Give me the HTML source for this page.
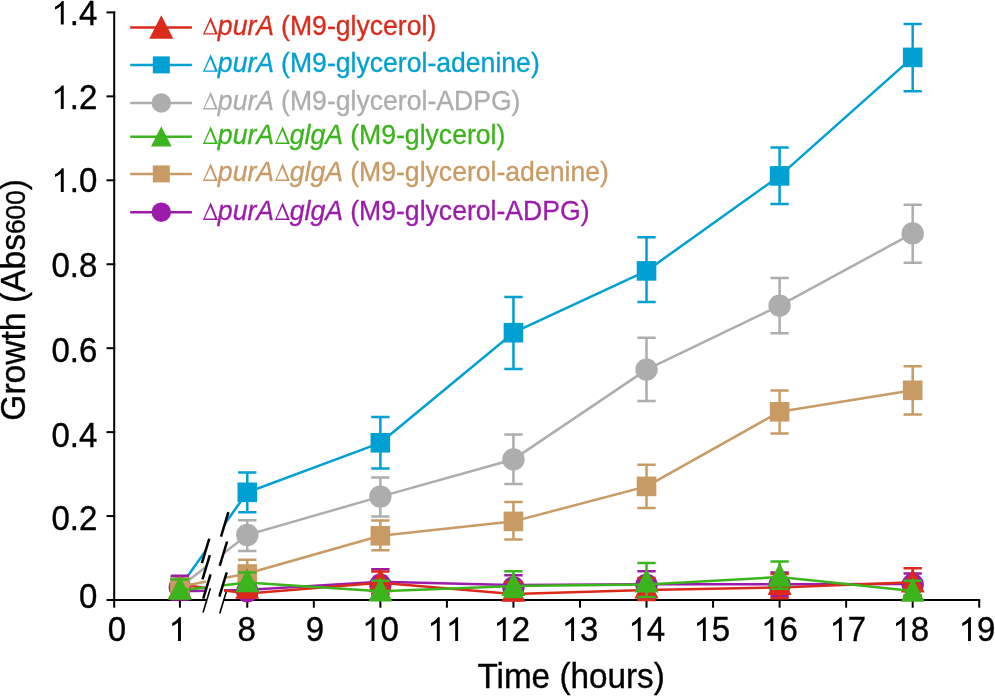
<!DOCTYPE html><html><head><meta charset="utf-8"><style>
html,body{margin:0;padding:0;background:#fff;overflow:hidden}
svg{display:block;will-change:transform}
text{font-family:"Liberation Sans",sans-serif}
</style></head><body>
<svg width="995" height="696" viewBox="0 0 995 696">
<defs><clipPath id="gap"><rect x="0" y="0" width="206.0" height="696"/><rect x="224.0" y="0" width="771.0" height="696"/></clipPath></defs>

<g stroke="#000" stroke-width="2.0" fill="none">
<line x1="114.2" y1="11.42" x2="114.2" y2="601.0"/>
<line x1="106.5" y1="600.00" x2="115.2" y2="600.00"/>
<line x1="106.5" y1="516.06" x2="115.2" y2="516.06"/>
<line x1="106.5" y1="432.12" x2="115.2" y2="432.12"/>
<line x1="106.5" y1="348.18" x2="115.2" y2="348.18"/>
<line x1="106.5" y1="264.24" x2="115.2" y2="264.24"/>
<line x1="106.5" y1="180.30" x2="115.2" y2="180.30"/>
<line x1="106.5" y1="96.36" x2="115.2" y2="96.36"/>
<line x1="106.5" y1="12.42" x2="115.2" y2="12.42"/>
<line x1="113.2" y1="600.0" x2="206.7" y2="600.0"/>
<line x1="223.4" y1="600.0" x2="980.22" y2="600.0"/>
<line x1="114.20" y1="600.0" x2="114.20" y2="607.7"/>
<line x1="179.90" y1="600.0" x2="179.90" y2="607.7"/>
<line x1="247.28" y1="600.0" x2="247.28" y2="607.7"/>
<line x1="313.82" y1="600.0" x2="313.82" y2="607.7"/>
<line x1="380.36" y1="600.0" x2="380.36" y2="607.7"/>
<line x1="446.90" y1="600.0" x2="446.90" y2="607.7"/>
<line x1="513.44" y1="600.0" x2="513.44" y2="607.7"/>
<line x1="579.98" y1="600.0" x2="579.98" y2="607.7"/>
<line x1="646.52" y1="600.0" x2="646.52" y2="607.7"/>
<line x1="713.06" y1="600.0" x2="713.06" y2="607.7"/>
<line x1="779.60" y1="600.0" x2="779.60" y2="607.7"/>
<line x1="846.14" y1="600.0" x2="846.14" y2="607.7"/>
<line x1="912.68" y1="600.0" x2="912.68" y2="607.7"/>
<line x1="979.22" y1="600.0" x2="979.22" y2="607.7"/>
</g>
<line x1="210.36" y1="588.24" x2="203.04" y2="612.46" stroke="#000" stroke-width="1.6"/>
<line x1="227.06" y1="589.34" x2="219.74" y2="613.56" stroke="#000" stroke-width="1.6"/>
<text x="78.95" y="583.781" transform="scale(1,1.042)" font-size="33" stroke="#000" stroke-width="0.35" >0</text>
<text x="51.43" y="508.445" transform="scale(1,1.042)" font-size="33" stroke="#000" stroke-width="0.35" >0.2</text>
<text x="51.43" y="428.599" transform="scale(1,1.042)" font-size="33" stroke="#000" stroke-width="0.35" >0.4</text>
<text x="51.43" y="347.121" transform="scale(1,1.042)" font-size="33" stroke="#000" stroke-width="0.35" >0.6</text>
<text x="51.43" y="265.547" transform="scale(1,1.042)" font-size="33" stroke="#000" stroke-width="0.35" >0.8</text>
<path d="M763,0 L583,0 L583,1147 Q518,1085 412,1023 Q306,961 222,930 L222,1104 Q373,1175 486,1276 Q599,1377 646,1472 L763,1472 Z" transform="translate(51.425,192.000) scale(0.016113,-0.016113)"/><text x="69.78" y="184.261" transform="scale(1,1.042)" font-size="33" stroke="#000" stroke-width="0.35" >.0</text>
<path d="M763,0 L583,0 L583,1147 Q518,1085 412,1023 Q306,961 222,930 L222,1104 Q373,1175 486,1276 Q599,1377 646,1472 L763,1472 Z" transform="translate(51.425,109.100) scale(0.016113,-0.016113)"/><text x="69.78" y="104.702" transform="scale(1,1.042)" font-size="33" stroke="#000" stroke-width="0.35" >.2</text>
<path d="M763,0 L583,0 L583,1147 Q518,1085 412,1023 Q306,961 222,930 L222,1104 Q373,1175 486,1276 Q599,1377 646,1472 L763,1472 Z" transform="translate(51.425,24.600) scale(0.016113,-0.016113)"/><text x="69.78" y="23.608" transform="scale(1,1.042)" font-size="33" stroke="#000" stroke-width="0.35" >.4</text>
<text x="107.82" y="615.067" transform="scale(1,1.042)" font-size="33" stroke="#000" stroke-width="0.35" >0</text>
<path d="M763,0 L583,0 L583,1147 Q518,1085 412,1023 Q306,961 222,930 L222,1104 Q373,1175 486,1276 Q599,1377 646,1472 L763,1472 Z" transform="translate(168.623,640.900) scale(0.016113,-0.016113)"/>
<text x="237.42" y="615.067" transform="scale(1,1.042)" font-size="33" stroke="#000" stroke-width="0.35" >8</text>
<text x="305.82" y="615.067" transform="scale(1,1.042)" font-size="33" stroke="#000" stroke-width="0.35" >9</text>
<path d="M763,0 L583,0 L583,1147 Q518,1085 412,1023 Q306,961 222,930 L222,1104 Q373,1175 486,1276 Q599,1377 646,1472 L763,1472 Z" transform="translate(362.147,640.900) scale(0.016113,-0.016113)"/><text x="380.50" y="615.067" transform="scale(1,1.042)" font-size="33" stroke="#000" stroke-width="0.35" >0</text>
<path d="M763,0 L583,0 L583,1147 Q518,1085 412,1023 Q306,961 222,930 L222,1104 Q373,1175 486,1276 Q599,1377 646,1472 L763,1472 Z" transform="translate(427.447,640.900) scale(0.016113,-0.016113)"/><path d="M763,0 L583,0 L583,1147 Q518,1085 412,1023 Q306,961 222,930 L222,1104 Q373,1175 486,1276 Q599,1377 646,1472 L763,1472 Z" transform="translate(445.800,640.900) scale(0.016113,-0.016113)"/>
<path d="M763,0 L583,0 L583,1147 Q518,1085 412,1023 Q306,961 222,930 L222,1104 Q373,1175 486,1276 Q599,1377 646,1472 L763,1472 Z" transform="translate(493.447,640.900) scale(0.016113,-0.016113)"/><text x="511.80" y="615.067" transform="scale(1,1.042)" font-size="33" stroke="#000" stroke-width="0.35" >2</text>
<path d="M763,0 L583,0 L583,1147 Q518,1085 412,1023 Q306,961 222,930 L222,1104 Q373,1175 486,1276 Q599,1377 646,1472 L763,1472 Z" transform="translate(561.747,640.900) scale(0.016113,-0.016113)"/><text x="580.10" y="615.067" transform="scale(1,1.042)" font-size="33" stroke="#000" stroke-width="0.35" >3</text>
<path d="M763,0 L583,0 L583,1147 Q518,1085 412,1023 Q306,961 222,930 L222,1104 Q373,1175 486,1276 Q599,1377 646,1472 L763,1472 Z" transform="translate(628.397,640.900) scale(0.016113,-0.016113)"/><text x="646.75" y="615.067" transform="scale(1,1.042)" font-size="33" stroke="#000" stroke-width="0.35" >4</text>
<path d="M763,0 L583,0 L583,1147 Q518,1085 412,1023 Q306,961 222,930 L222,1104 Q373,1175 486,1276 Q599,1377 646,1472 L763,1472 Z" transform="translate(693.497,640.900) scale(0.016113,-0.016113)"/><text x="711.85" y="615.067" transform="scale(1,1.042)" font-size="33" stroke="#000" stroke-width="0.35" >5</text>
<path d="M763,0 L583,0 L583,1147 Q518,1085 412,1023 Q306,961 222,930 L222,1104 Q373,1175 486,1276 Q599,1377 646,1472 L763,1472 Z" transform="translate(761.047,640.900) scale(0.016113,-0.016113)"/><text x="779.40" y="615.067" transform="scale(1,1.042)" font-size="33" stroke="#000" stroke-width="0.35" >6</text>
<path d="M763,0 L583,0 L583,1147 Q518,1085 412,1023 Q306,961 222,930 L222,1104 Q373,1175 486,1276 Q599,1377 646,1472 L763,1472 Z" transform="translate(829.497,640.900) scale(0.016113,-0.016113)"/><text x="847.85" y="615.067" transform="scale(1,1.042)" font-size="33" stroke="#000" stroke-width="0.35" >7</text>
<path d="M763,0 L583,0 L583,1147 Q518,1085 412,1023 Q306,961 222,930 L222,1104 Q373,1175 486,1276 Q599,1377 646,1472 L763,1472 Z" transform="translate(892.447,640.900) scale(0.016113,-0.016113)"/><text x="910.80" y="615.067" transform="scale(1,1.042)" font-size="33" stroke="#000" stroke-width="0.35" >8</text>
<path d="M763,0 L583,0 L583,1147 Q518,1085 412,1023 Q306,961 222,930 L222,1104 Q373,1175 486,1276 Q599,1377 646,1472 L763,1472 Z" transform="translate(958.647,640.900) scale(0.016113,-0.016113)"/><text x="977.00" y="615.067" transform="scale(1,1.042)" font-size="33" stroke="#000" stroke-width="0.35" >9</text>
<text x="477.40" y="660.461" transform="scale(1,1.042)" font-size="33.3" stroke="#000" stroke-width="0.35" >Time (hours)</text>
<text transform="translate(24.6,420.7) rotate(-90) scale(1,1.042)" font-size="33.6" stroke="#000" stroke-width="0.35">Growth (Abs<tspan font-size="26.3">600</tspan>)</text>
<g><path d="M179.90,587.00 L247.28,492.30 L380.36,442.80 L513.44,332.70 L646.52,270.90 L779.60,175.90 L912.68,57.40" fill="none" stroke="#00a0d2" stroke-width="2.5" stroke-linejoin="round" clip-path="url(#gap)"/><line x1="209.29" y1="538.69" x2="201.91" y2="563.11" stroke="#000" stroke-width="2.5"/><line x1="228.39" y1="512.14" x2="221.01" y2="536.56" stroke="#000" stroke-width="2.5"/><path d="M179.90,577.20 L179.90,597.00 M170.75,577.20 L189.05,577.20 M170.75,597.00 L189.05,597.00" stroke="#00a0d2" stroke-width="2.5" fill="none"/><path d="M247.28,472.50 L247.28,512.20 M238.13,472.50 L256.43,472.50 M238.13,512.20 L256.43,512.20" stroke="#00a0d2" stroke-width="2.5" fill="none"/><path d="M380.36,416.90 L380.36,468.50 M371.21,416.90 L389.51,416.90 M371.21,468.50 L389.51,468.50" stroke="#00a0d2" stroke-width="2.5" fill="none"/><path d="M513.44,296.90 L513.44,368.90 M504.29,296.90 L522.59,296.90 M504.29,368.90 L522.59,368.90" stroke="#00a0d2" stroke-width="2.5" fill="none"/><path d="M646.52,237.20 L646.52,301.90 M637.37,237.20 L655.67,237.20 M637.37,301.90 L655.67,301.90" stroke="#00a0d2" stroke-width="2.5" fill="none"/><path d="M779.60,147.60 L779.60,204.10 M770.45,147.60 L788.75,147.60 M770.45,204.10 L788.75,204.10" stroke="#00a0d2" stroke-width="2.5" fill="none"/><path d="M912.68,23.90 L912.68,91.30 M903.53,23.90 L921.83,23.90 M903.53,91.30 L921.83,91.30" stroke="#00a0d2" stroke-width="2.5" fill="none"/><rect x="170.10" y="577.20" width="19.6" height="19.6" fill="#00a0d2"/><rect x="237.48" y="482.50" width="19.6" height="19.6" fill="#00a0d2"/><rect x="370.56" y="433.00" width="19.6" height="19.6" fill="#00a0d2"/><rect x="503.64" y="322.90" width="19.6" height="19.6" fill="#00a0d2"/><rect x="636.72" y="261.10" width="19.6" height="19.6" fill="#00a0d2"/><rect x="769.80" y="166.10" width="19.6" height="19.6" fill="#00a0d2"/><rect x="902.88" y="47.60" width="19.6" height="19.6" fill="#00a0d2"/></g>
<g><path d="M179.90,587.00 L247.28,535.00 L380.36,496.60 L513.44,459.40 L646.52,369.60 L779.60,305.60 L912.68,233.40" fill="none" stroke="#adadad" stroke-width="2.5" stroke-linejoin="round" clip-path="url(#gap)"/><line x1="209.84" y1="555.04" x2="202.46" y2="579.46" stroke="#000" stroke-width="2.5"/><line x1="227.09" y1="541.49" x2="219.71" y2="565.91" stroke="#000" stroke-width="2.5"/><path d="M179.90,578.00 L179.90,596.00 M170.75,578.00 L189.05,578.00 M170.75,596.00 L189.05,596.00" stroke="#adadad" stroke-width="2.5" fill="none"/><path d="M247.28,520.30 L247.28,551.00 M238.13,520.30 L256.43,520.30 M238.13,551.00 L256.43,551.00" stroke="#adadad" stroke-width="2.5" fill="none"/><path d="M380.36,477.60 L380.36,516.50 M371.21,477.60 L389.51,477.60 M371.21,516.50 L389.51,516.50" stroke="#adadad" stroke-width="2.5" fill="none"/><path d="M513.44,434.50 L513.44,484.00 M504.29,434.50 L522.59,434.50 M504.29,484.00 L522.59,484.00" stroke="#adadad" stroke-width="2.5" fill="none"/><path d="M646.52,337.70 L646.52,401.00 M637.37,337.70 L655.67,337.70 M637.37,401.00 L655.67,401.00" stroke="#adadad" stroke-width="2.5" fill="none"/><path d="M779.60,278.00 L779.60,333.20 M770.45,278.00 L788.75,278.00 M770.45,333.20 L788.75,333.20" stroke="#adadad" stroke-width="2.5" fill="none"/><path d="M912.68,204.80 L912.68,262.80 M903.53,204.80 L921.83,204.80 M903.53,262.80 L921.83,262.80" stroke="#adadad" stroke-width="2.5" fill="none"/><circle cx="179.90" cy="587.00" r="11.2" fill="#adadad"/><circle cx="247.28" cy="535.00" r="11.2" fill="#adadad"/><circle cx="380.36" cy="496.60" r="11.2" fill="#adadad"/><circle cx="513.44" cy="459.40" r="11.2" fill="#adadad"/><circle cx="646.52" cy="369.60" r="11.2" fill="#adadad"/><circle cx="779.60" cy="305.60" r="11.2" fill="#adadad"/><circle cx="912.68" cy="233.40" r="11.2" fill="#adadad"/></g>
<g><path d="M179.90,591.30 L247.28,590.00 L380.36,581.80 L513.44,585.00 L646.52,584.20 L779.60,584.30 L912.68,584.00" fill="none" stroke="#9b1caa" stroke-width="2.5" stroke-linejoin="round" clip-path="url(#gap)"/><path d="M179.90,575.70 L179.90,599.50 M170.75,575.70 L189.05,575.70 M170.75,599.50 L189.05,599.50" stroke="#9b1caa" stroke-width="2.5" fill="none"/><path d="M247.28,585.00 L247.28,597.00 M238.13,585.00 L256.43,585.00 M238.13,597.00 L256.43,597.00" stroke="#9b1caa" stroke-width="2.5" fill="none"/><path d="M380.36,569.30 L380.36,594.00 M371.21,569.30 L389.51,569.30 M371.21,594.00 L389.51,594.00" stroke="#9b1caa" stroke-width="2.5" fill="none"/><path d="M513.44,575.30 L513.44,600.00 M504.29,575.30 L522.59,575.30 M504.29,600.00 L522.59,600.00" stroke="#9b1caa" stroke-width="2.5" fill="none"/><path d="M646.52,571.20 L646.52,598.00 M637.37,571.20 L655.67,571.20 M637.37,598.00 L655.67,598.00" stroke="#9b1caa" stroke-width="2.5" fill="none"/><path d="M779.60,572.50 L779.60,596.30 M770.45,572.50 L788.75,572.50 M770.45,596.30 L788.75,596.30" stroke="#9b1caa" stroke-width="2.5" fill="none"/><path d="M912.68,573.60 L912.68,595.60 M903.53,573.60 L921.83,573.60 M903.53,595.60 L921.83,595.60" stroke="#9b1caa" stroke-width="2.5" fill="none"/><circle cx="179.90" cy="587.60" r="11.2" fill="#9b1caa"/><circle cx="247.28" cy="591.40" r="11.2" fill="#9b1caa"/><circle cx="380.36" cy="584.80" r="11.2" fill="#9b1caa"/><circle cx="513.44" cy="587.50" r="11.2" fill="#9b1caa"/><circle cx="646.52" cy="584.90" r="11.2" fill="#9b1caa"/><circle cx="779.60" cy="585.00" r="11.2" fill="#9b1caa"/><circle cx="912.68" cy="584.60" r="11.2" fill="#9b1caa"/></g>
<g><path d="M179.90,584.50 L247.28,593.50 L380.36,582.70 L513.44,594.00 L646.52,590.00 L779.60,587.50 L912.68,582.30" fill="none" stroke="#db2a1c" stroke-width="2.5" stroke-linejoin="round" clip-path="url(#gap)"/><path d="M179.90,581.00 L179.90,593.00 M170.75,581.00 L189.05,581.00 M170.75,593.00 L189.05,593.00" stroke="#db2a1c" stroke-width="2.5" fill="none"/><path d="M247.28,578.00 L247.28,596.00 M238.13,578.00 L256.43,578.00 M238.13,596.00 L256.43,596.00" stroke="#db2a1c" stroke-width="2.5" fill="none"/><path d="M380.36,571.50 L380.36,594.00 M371.21,571.50 L389.51,571.50 M371.21,594.00 L389.51,594.00" stroke="#db2a1c" stroke-width="2.5" fill="none"/><path d="M513.44,582.00 L513.44,600.00 M504.29,582.00 L522.59,582.00 M504.29,600.00 L522.59,600.00" stroke="#db2a1c" stroke-width="2.5" fill="none"/><path d="M646.52,578.00 L646.52,600.00 M637.37,578.00 L655.67,578.00 M637.37,600.00 L655.67,600.00" stroke="#db2a1c" stroke-width="2.5" fill="none"/><path d="M779.60,574.00 L779.60,598.30 M770.45,574.00 L788.75,574.00 M770.45,598.30 L788.75,598.30" stroke="#db2a1c" stroke-width="2.5" fill="none"/><path d="M912.68,568.30 L912.68,596.00 M903.53,568.30 L921.83,568.30 M903.53,596.00 L921.83,596.00" stroke="#db2a1c" stroke-width="2.5" fill="none"/><polygon points="179.90,575.00 191.90,599.00 167.90,599.00" fill="#db2a1c"/><polygon points="247.28,574.70 259.28,598.70 235.28,598.70" fill="#db2a1c"/><polygon points="380.36,568.30 392.36,592.30 368.36,592.30" fill="#db2a1c"/><polygon points="513.44,577.80 525.44,601.80 501.44,601.80" fill="#db2a1c"/><polygon points="646.52,574.40 658.52,598.40 634.52,598.40" fill="#db2a1c"/><polygon points="779.60,570.90 791.60,594.90 767.60,594.90" fill="#db2a1c"/><polygon points="912.68,568.50 924.68,592.50 900.68,592.50" fill="#db2a1c"/></g>
<g><path d="M179.90,586.70 L247.28,573.50 L380.36,535.80 L513.44,521.40 L646.52,486.40 L779.60,411.80 L912.68,390.30" fill="none" stroke="#c89a64" stroke-width="2.5" stroke-linejoin="round" clip-path="url(#gap)"/><path d="M179.90,579.00 L179.90,596.00 M170.75,579.00 L189.05,579.00 M170.75,596.00 L189.05,596.00" stroke="#c89a64" stroke-width="2.5" fill="none"/><path d="M247.28,559.70 L247.28,588.30 M238.13,559.70 L256.43,559.70 M238.13,588.30 L256.43,588.30" stroke="#c89a64" stroke-width="2.5" fill="none"/><path d="M380.36,520.40 L380.36,550.30 M371.21,520.40 L389.51,520.40 M371.21,550.30 L389.51,550.30" stroke="#c89a64" stroke-width="2.5" fill="none"/><path d="M513.44,502.00 L513.44,539.50 M504.29,502.00 L522.59,502.00 M504.29,539.50 L522.59,539.50" stroke="#c89a64" stroke-width="2.5" fill="none"/><path d="M646.52,464.80 L646.52,508.00 M637.37,464.80 L655.67,464.80 M637.37,508.00 L655.67,508.00" stroke="#c89a64" stroke-width="2.5" fill="none"/><path d="M779.60,390.50 L779.60,433.60 M770.45,390.50 L788.75,390.50 M770.45,433.60 L788.75,433.60" stroke="#c89a64" stroke-width="2.5" fill="none"/><path d="M912.68,366.20 L912.68,414.50 M903.53,366.20 L921.83,366.20 M903.53,414.50 L921.83,414.50" stroke="#c89a64" stroke-width="2.5" fill="none"/><rect x="170.10" y="577.50" width="19.6" height="19.6" fill="#c89a64"/><rect x="237.48" y="564.20" width="19.6" height="19.6" fill="#c89a64"/><rect x="370.56" y="526.00" width="19.6" height="19.6" fill="#c89a64"/><rect x="503.64" y="511.60" width="19.6" height="19.6" fill="#c89a64"/><rect x="636.72" y="476.60" width="19.6" height="19.6" fill="#c89a64"/><rect x="769.80" y="402.00" width="19.6" height="19.6" fill="#c89a64"/><rect x="902.88" y="380.50" width="19.6" height="19.6" fill="#c89a64"/></g>
<g><path d="M179.90,590.40 L247.28,582.50 L380.36,591.20 L513.44,586.00 L646.52,584.50 L779.60,577.00 L912.68,591.10" fill="none" stroke="#3cb41c" stroke-width="2.5" stroke-linejoin="round" clip-path="url(#gap)"/><line x1="210.59" y1="574.29" x2="203.21" y2="598.71" stroke="#000" stroke-width="2.5"/><line x1="226.74" y1="572.29" x2="219.36" y2="596.71" stroke="#000" stroke-width="2.5"/><path d="M179.90,579.50 L179.90,595.80 M170.75,579.50 L189.05,579.50 M170.75,595.80 L189.05,595.80" stroke="#3cb41c" stroke-width="2.5" fill="none"/><path d="M247.28,572.60 L247.28,587.80 M238.13,572.60 L256.43,572.60 M238.13,587.80 L256.43,587.80" stroke="#3cb41c" stroke-width="2.5" fill="none"/><path d="M380.36,580.80 L380.36,598.20 M371.21,580.80 L389.51,580.80 M371.21,598.20 L389.51,598.20" stroke="#3cb41c" stroke-width="2.5" fill="none"/><path d="M513.44,571.30 L513.44,596.90 M504.29,571.30 L522.59,571.30 M504.29,596.90 L522.59,596.90" stroke="#3cb41c" stroke-width="2.5" fill="none"/><path d="M646.52,562.90 L646.52,596.90 M637.37,562.90 L655.67,562.90 M637.37,596.90 L655.67,596.90" stroke="#3cb41c" stroke-width="2.5" fill="none"/><path d="M779.60,561.60 L779.60,588.70 M770.45,561.60 L788.75,561.60 M770.45,588.70 L788.75,588.70" stroke="#3cb41c" stroke-width="2.5" fill="none"/><path d="M912.68,580.80 L912.68,598.80 M903.53,580.80 L921.83,580.80 M903.53,598.80 L921.83,598.80" stroke="#3cb41c" stroke-width="2.5" fill="none"/><polygon points="179.90,575.65 191.90,599.65 167.90,599.65" fill="#3cb41c"/><polygon points="247.28,568.20 259.28,592.20 235.28,592.20" fill="#3cb41c"/><polygon points="380.36,577.50 392.36,601.50 368.36,601.50" fill="#3cb41c"/><polygon points="513.44,571.90 525.44,595.90 501.44,595.90" fill="#3cb41c"/><polygon points="646.52,568.60 658.52,592.60 634.52,592.60" fill="#3cb41c"/><polygon points="779.60,562.75 791.60,586.75 767.60,586.75" fill="#3cb41c"/><polygon points="912.68,577.80 924.68,601.80 900.68,601.80" fill="#3cb41c"/></g>
<line x1="130.2" y1="27.5" x2="191.9" y2="27.5" stroke="#db2a1c" stroke-width="2.5"/>
<polygon points="161.30,15.15 173.30,38.85 149.30,38.85" fill="#db2a1c"/>
<path d="M210.70,17.00 L217.90,34.60 L202.90,34.60 Z M210.30,21.50 L204.80,33.30 L215.20,33.30 Z" fill="#db2a1c" fill-rule="evenodd"/>
<text x="217.85" y="33.493" transform="scale(1,1.042)" font-size="26.6" stroke="#db2a1c" stroke-width="0.3" fill="#db2a1c" font-style="italic">purA</text>
<text x="273.73" y="33.493" transform="scale(1,1.042)" font-size="26.6" stroke="#db2a1c" stroke-width="0.3" fill="#db2a1c" xml:space="preserve"> (M9-glycerol)</text>
<line x1="130.2" y1="64.9" x2="191.9" y2="64.9" stroke="#00a0d2" stroke-width="2.5"/>
<rect x="152.80" y="56.40" width="17" height="17" fill="#00a0d2"/>
<path d="M210.70,54.20 L217.90,71.80 L202.90,71.80 Z M210.30,58.70 L204.80,70.50 L215.20,70.50 Z" fill="#00a0d2" fill-rule="evenodd"/>
<text x="217.85" y="69.194" transform="scale(1,1.042)" font-size="26.6" stroke="#00a0d2" stroke-width="0.3" fill="#00a0d2" font-style="italic">purA</text>
<text x="273.73" y="69.194" transform="scale(1,1.042)" font-size="26.6" stroke="#00a0d2" stroke-width="0.3" fill="#00a0d2" xml:space="preserve"> (M9-glycerol-adenine)</text>
<line x1="130.2" y1="102.9" x2="191.9" y2="102.9" stroke="#adadad" stroke-width="2.5"/>
<circle cx="161.30" cy="102.90" r="9.75" fill="#adadad"/>
<path d="M210.70,91.80 L217.90,109.40 L202.90,109.40 Z M210.30,96.30 L204.80,108.10 L215.20,108.10 Z" fill="#adadad" fill-rule="evenodd"/>
<text x="217.85" y="105.278" transform="scale(1,1.042)" font-size="26.6" stroke="#adadad" stroke-width="0.3" fill="#adadad" font-style="italic">purA</text>
<text x="273.73" y="105.278" transform="scale(1,1.042)" font-size="26.6" stroke="#adadad" stroke-width="0.3" fill="#adadad" xml:space="preserve"> (M9-glycerol-ADPG)</text>
<line x1="130.2" y1="136.8" x2="191.9" y2="136.8" stroke="#3cb41c" stroke-width="2.5"/>
<polygon points="161.30,126.15 171.60,146.45 151.00,146.45" fill="#3cb41c"/>
<path d="M210.70,126.30 L217.90,143.90 L202.90,143.90 Z M210.30,130.80 L204.80,142.60 L215.20,142.60 Z" fill="#3cb41c" fill-rule="evenodd"/>
<text x="217.85" y="138.388" transform="scale(1,1.042)" font-size="26.6" stroke="#3cb41c" stroke-width="0.3" fill="#3cb41c" font-style="italic">purA</text>
<path d="M282.73,126.30 L289.93,143.90 L274.93,143.90 Z M282.33,130.80 L276.83,142.60 L287.23,142.60 Z" fill="#3cb41c" fill-rule="evenodd"/>
<text x="289.78" y="138.388" transform="scale(1,1.042)" font-size="26.6" stroke="#3cb41c" stroke-width="0.3" fill="#3cb41c" font-style="italic">glgA</text>
<text x="342.81" y="138.388" transform="scale(1,1.042)" font-size="26.6" stroke="#3cb41c" stroke-width="0.3" fill="#3cb41c" xml:space="preserve"> (M9-glycerol)</text>
<line x1="130.2" y1="173.9" x2="191.9" y2="173.9" stroke="#c89a64" stroke-width="2.5"/>
<rect x="152.80" y="165.40" width="17" height="17" fill="#c89a64"/>
<path d="M210.70,163.30 L217.90,180.90 L202.90,180.90 Z M210.30,167.80 L204.80,179.60 L215.20,179.60 Z" fill="#c89a64" fill-rule="evenodd"/>
<text x="217.85" y="173.896" transform="scale(1,1.042)" font-size="26.6" stroke="#c89a64" stroke-width="0.3" fill="#c89a64" font-style="italic">purA</text>
<path d="M282.73,163.30 L289.93,180.90 L274.93,180.90 Z M282.33,167.80 L276.83,179.60 L287.23,179.60 Z" fill="#c89a64" fill-rule="evenodd"/>
<text x="289.78" y="173.896" transform="scale(1,1.042)" font-size="26.6" stroke="#c89a64" stroke-width="0.3" fill="#c89a64" font-style="italic">glgA</text>
<text x="342.81" y="173.896" transform="scale(1,1.042)" font-size="26.6" stroke="#c89a64" stroke-width="0.3" fill="#c89a64" xml:space="preserve"> (M9-glycerol-adenine)</text>
<line x1="130.2" y1="212.2" x2="191.9" y2="212.2" stroke="#9b1caa" stroke-width="2.5"/>
<circle cx="161.30" cy="212.20" r="9.75" fill="#9b1caa"/>
<path d="M210.70,202.30 L217.90,219.90 L202.90,219.90 Z M210.30,206.80 L204.80,218.60 L215.20,218.60 Z" fill="#9b1caa" fill-rule="evenodd"/>
<text x="217.85" y="211.324" transform="scale(1,1.042)" font-size="26.6" stroke="#9b1caa" stroke-width="0.3" fill="#9b1caa" font-style="italic">purA</text>
<path d="M282.73,202.30 L289.93,219.90 L274.93,219.90 Z M282.33,206.80 L276.83,218.60 L287.23,218.60 Z" fill="#9b1caa" fill-rule="evenodd"/>
<text x="289.78" y="211.324" transform="scale(1,1.042)" font-size="26.6" stroke="#9b1caa" stroke-width="0.3" fill="#9b1caa" font-style="italic">glgA</text>
<text x="342.81" y="211.324" transform="scale(1,1.042)" font-size="26.6" stroke="#9b1caa" stroke-width="0.3" fill="#9b1caa" xml:space="preserve"> (M9-glycerol-ADPG)</text>
</svg></body></html>
